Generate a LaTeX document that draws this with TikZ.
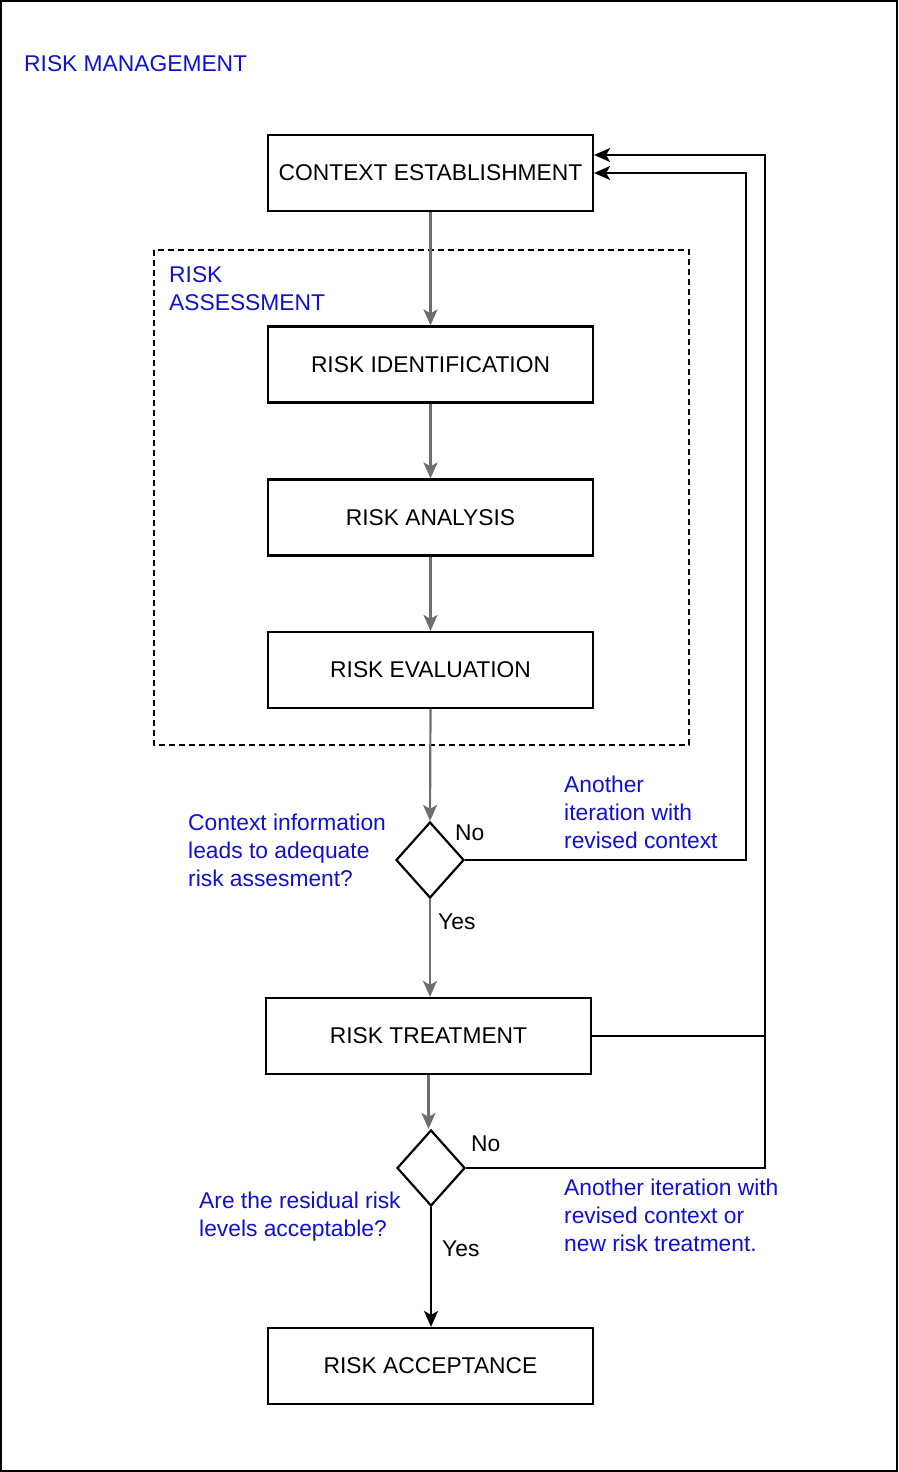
\documentclass[tikz,border=0pt]{standalone}
\usepackage{fontspec}
\setmainfont{Liberation Sans}
\usetikzlibrary{arrows.meta,shapes.geometric}
\definecolor{labelblue}{RGB}{16,16,205}
\definecolor{flowgray}{RGB}{110,110,110}
\begin{document}
\begin{tikzpicture}[x=1pt,y=-1pt,
  font=\fontsize{22.8}{28}\selectfont,
  stepbox/.style={draw=black,line width=2.2pt,minimum width=325pt,minimum height=76pt,inner sep=0pt},
  decision/.style={draw=black,line width=2.2pt,diamond,minimum width=68pt,minimum height=76pt,inner sep=0pt,aspect=0.9},
  grayflow/.style={draw=flowgray,line width=2.2pt,-{Stealth[length=16pt,width=14pt,inset=4pt]}},
  blackflow/.style={draw=black,line width=2.2pt,-{Stealth[length=16pt,width=14pt,inset=4pt]}},
  plainline/.style={draw=black,line width=2.2pt},
  note/.style={text=labelblue,align=left,anchor=north west,inner sep=0pt},
  tag/.style={text=black,anchor=north west,inner sep=0pt}]
\useasboundingbox (0,0) rectangle (898,1472);
% outer frame
\draw[line width=2.2pt] (1,1) rectangle (897,1471);
\node[note] (title) at (24,55) {RISK MANAGEMENT};

% risk assessment group
\draw[line width=2pt,dash pattern=on 6pt off 4pt] (154,250) rectangle (689,745);
\node[note] (ra) at (169,266) {RISK\\ASSESSMENT};

% process steps
\node[stepbox] (ctx) at (430.5,173) {CONTEXT ESTABLISHMENT};
\node[stepbox] (ident) at (430.5,364.5) {RISK IDENTIFICATION};
\node[stepbox] (anal) at (430.5,517.5) {RISK ANALYSIS};
\node[stepbox] (eval) at (430.5,670) {RISK EVALUATION};
\node[decision] (d1) at (430,860) {};
\node[stepbox] (treat) at (428.5,1036) {RISK TREATMENT};
\node[decision] (d2) at (431,1168) {};
\node[stepbox] (acc) at (430.5,1366) {RISK ACCEPTANCE};

% main flow
\draw[grayflow] (ctx.south) -- (ident.north);
\draw[grayflow] (ident.south) -- (anal.north);
\draw[grayflow] (anal.south) -- (eval.north);
\draw[grayflow] (eval.south) -- (d1.north);
\draw[grayflow] (d1.south) -- (d1.south |- treat.north);
\draw[grayflow] (treat.south) -- (treat.south |- d2.north);
\draw[blackflow] (d2.south) -- (d2.south |- acc.north);

% feedback loops
\coordinate (l1) at (746,173);
\coordinate (l2) at (765,155);
\draw[blackflow] (d1.east) -| (l1) -- (ctx.east);
\draw[blackflow] (d2.east) -| (l2) -- (ctx.north east |- l2);
\draw[plainline] (treat.east) -- (treat.east -| l2);

% labels
\node[tag] (no1) at (455,825) {No};
\node[tag] (yes1) at (438,914) {Yes};
\node[tag] (no2) at (471,1136) {No};
\node[tag] (yes2) at (442,1241) {Yes};
\node[note] (q1) at (188,814) {Context information\\leads to adequate\\risk assesment?};
\node[note] (n1) at (564,776) {Another\\iteration with\\revised context};
\node[note] (q2) at (199,1192) {Are the residual risk\\levels acceptable?};
\node[note] (n2) at (564,1179) {Another iteration with\\revised context or\\new risk treatment.};
\end{tikzpicture}
\end{document}
